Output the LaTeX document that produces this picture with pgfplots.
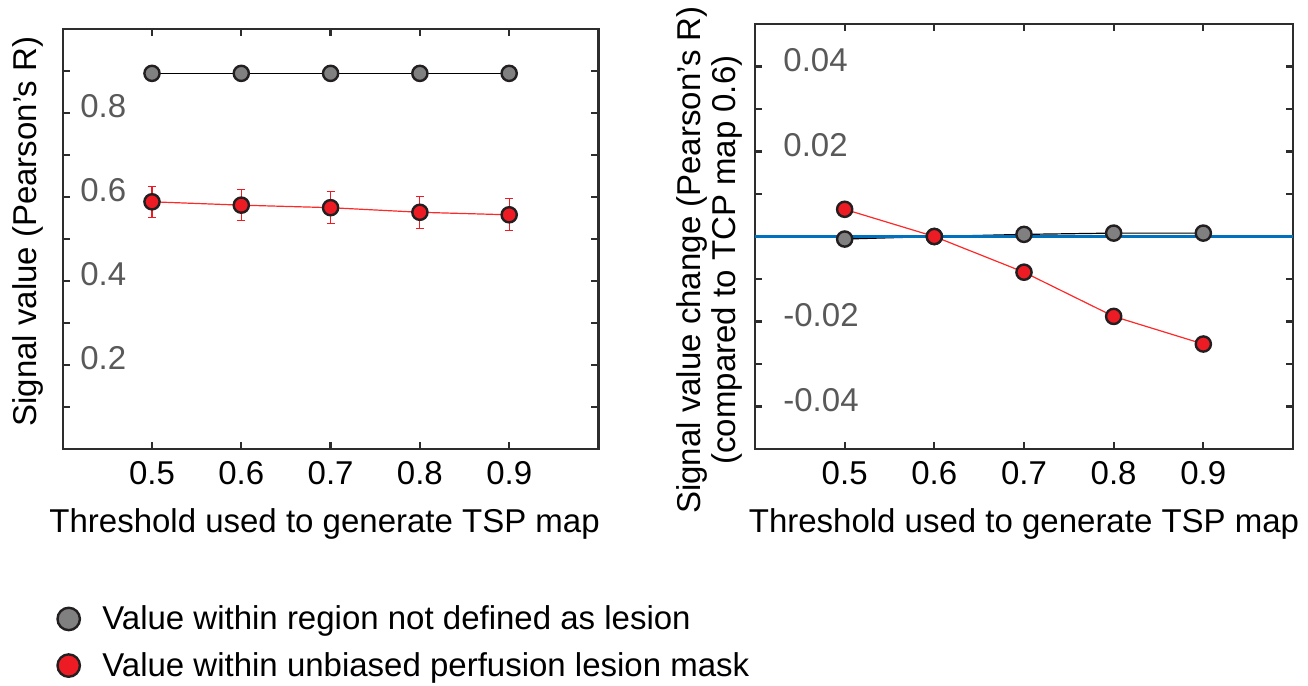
\documentclass[border=0pt]{standalone}
\usepackage{fontspec}
\setmainfont{Liberation Sans}
\usepackage{pgfplots}
\pgfplotsset{compat=1.18}
\definecolor{mgray}{RGB}{128,128,128}
\definecolor{edge}{RGB}{35,31,32}
\definecolor{mred}{RGB}{237,28,36}
\definecolor{lred}{RGB}{255,40,40}
\definecolor{mblue}{RGB}{0,114,189}
\definecolor{frame}{RGB}{45,45,45}
\definecolor{tgray}{RGB}{89,89,89}
\newcommand{\fs}{\fontsize{16.5}{19.8}\selectfont}
\pgfplotsset{
  myaxis/.style={
    scale only axis,
    xmin=0.4, xmax=1.0,
    xtick={0.5,0.6,0.7,0.8,0.9},
    xticklabels={0.5,0.6,0.7,0.8,0.9},
    tick align=inside,
    xtick pos=both, ytick pos=both,
    major tick length=3.5pt,
    minor tick length=3.5pt,
    scaled y ticks=false,
    axis line style={frame, line width=1.1pt},
    tick style={frame, line width=1.1pt},
    tick label style={font=\fs},
    xticklabel style={anchor=north, inner sep=0pt, yshift=-6pt},
    yticklabel style={anchor=west, inner sep=0pt, text=tgray},
    label style={font=\fs},
    xlabel style={at={(axis description cs:0.5,0)}, anchor=north, inner sep=0pt, yshift=-29.5pt},
    xlabel={Threshold used to generate TSP map},
  },
  gmark/.style={color=black, line width=0.6pt, mark=*, mark size=3.8pt, mark options={fill=mgray, draw=edge, line width=1.2pt, solid}},
  rmark/.style={color=lred, line width=0.6pt, mark=*, mark size=3.8pt, mark options={fill=mred, draw=edge, line width=1.2pt, solid}},
}
\begin{document}
\begin{tikzpicture}
\useasboundingbox (0,0) rectangle (654pt,343pt);
\begin{axis}[myaxis,
  at={(31.35pt,118.5pt)}, anchor=south west,
  width=267.9pt, height=209.85pt,
  ymin=0, ymax=1,
  ytick={0.2,0.4,0.6,0.8}, yticklabels={0.2,0.4,0.6,0.8},
  minor ytick={0.1,0.3,0.5,0.7,0.9},
  yticklabel style={xshift=8.65pt, yshift=3.7pt},
  xlabel style={xshift=-3pt},
  ylabel={Signal value (Pearson’s R)},
  ylabel style={at={(axis description cs:-0.0648,0.518)}, anchor=center, inner sep=0pt},
  legend image code/.code={\draw[#1] plot coordinates {(0pt,0pt)};},
  legend cell align=left,
  legend style={at={(axis description cs:-0.0097,-0.3729)}, anchor=north west, draw=none, fill=none,
    inner sep=0pt, outer sep=0pt, row sep=9.85pt, column sep=11.25pt,
    nodes={inner sep=0pt, font=\fs}},
]
\addplot[gmark, forget plot] coordinates {(0.5,0.895) (0.6,0.895) (0.7,0.895) (0.8,0.895) (0.9,0.895)};
\addplot[rmark, forget plot,
  error bars/.cd, y dir=both, y explicit,
  error bar style={color=mred, line width=0.6pt},
  error mark options={rotate=90, mark size=2pt, color=mred, line width=0.6pt}]
  coordinates {(0.5,0.589) +- (0,0.037) (0.6,0.581) +- (0,0.037) (0.7,0.575) +- (0,0.038) (0.8,0.564) +- (0,0.038) (0.9,0.558) +- (0,0.038)};
\addlegendimage{mark=*, mark size=5.6pt, mark options={fill=mgray, draw=edge, line width=1.2pt, solid}}
\addlegendentry{Value within region not defined as lesion}
\addlegendimage{mark=*, mark size=5.6pt, mark options={fill=mred, draw=edge, line width=1.2pt, solid}}
\addlegendentry{Value within unbiased perfusion lesion mask}
\end{axis}
\begin{axis}[myaxis,
  at={(377.5pt,118.5pt)}, anchor=south west,
  width=269pt, height=212.5pt,
  ymin=-0.05, ymax=0.05,
  ytick={-0.04,-0.02,0.02,0.04}, yticklabels={-0.04,-0.02,0.02,0.04},
  minor ytick={-0.03,-0.01,0,0.01,0.03},
  yticklabel style={xshift=14pt, yshift=3.3pt},
  ylabel={Signal value change (Pearson’s R)\\(compared to TCP map 0.6)},
  ylabel style={align=center, font=\fontsize{16.5}{17.5}\selectfont, at={(axis description cs:-0.0846,0.4447)}, anchor=center, inner sep=0pt},
]
\addplot[gmark] coordinates {(0.5,-0.0006) (0.6,0) (0.7,0.0005) (0.8,0.0008) (0.9,0.0008)};
\addplot[rmark] coordinates {(0.5,0.0064) (0.6,0) (0.7,-0.0084) (0.8,-0.0188) (0.9,-0.0253)};
\addplot[mblue, line width=1.3pt] coordinates {(0.4,0) (1.0,0)};
\end{axis}
\end{tikzpicture}
\end{document}
